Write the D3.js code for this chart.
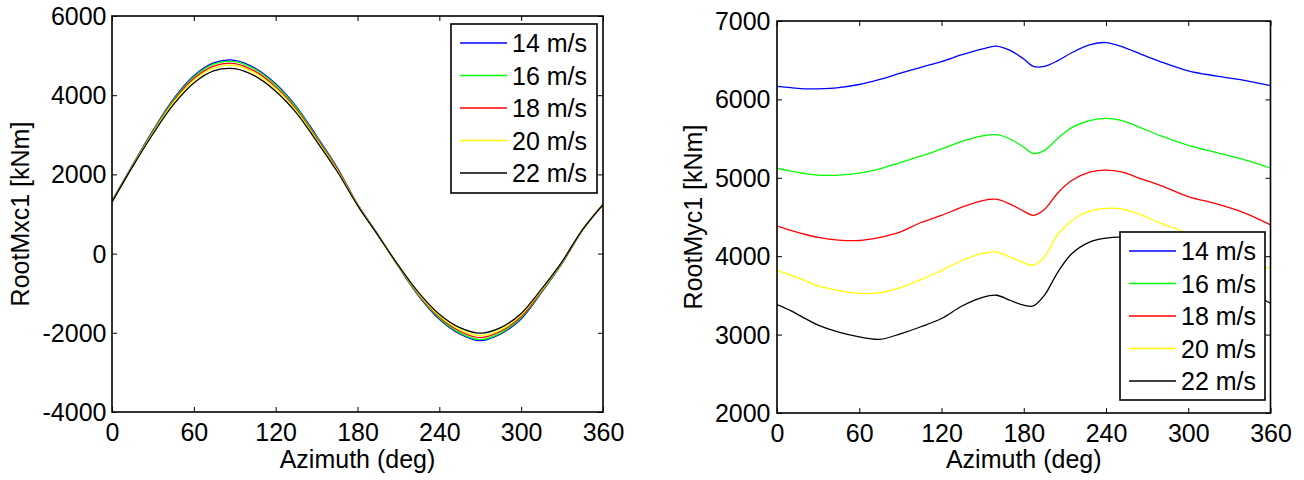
<!DOCTYPE html>
<html>
<head>
<meta charset="utf-8">
<script src="https://cdn.jsdelivr.net/npm/d3@7"></script>
<style>
  html, body { margin: 0; padding: 0; background: #fff; }
  svg { display: block; }
  text { font-family: "Liberation Sans", Arial, sans-serif; fill: #000; }
</style>
</head>
<body>
<svg id="chart" width="1304" height="480"></svg>
<script>
// ---------- DATA ----------
const seriesNames = ["14 m/s", "16 m/s", "18 m/s", "20 m/s", "22 m/s"];
const seriesColors = ["#0000ff", "#00ff00", "#ff0000", "#ffff00", "#000000"];
const xTicks = [0, 60, 120, 180, 240, 300, 360];

// Left panel: RootMxc1
const azLeft = [0, 15, 30, 45, 60, 75, 90, 105, 120, 135, 150, 165, 180, 195, 210, 225, 240, 255, 270, 285, 300, 315, 330, 345, 360];
const mx14 = [1330, 2230, 3110, 3900, 4490, 4820, 4880, 4680, 4290, 3720, 2970, 2180, 1250, 480, -325, -1080, -1660, -2030, -2200, -2030, -1650, -980, -250, 590, 1250];
const mx16 = [1320, 2220, 3090, 3870, 4460, 4790, 4850, 4650, 4260, 3690, 2940, 2160, 1240, 470, -320, -1060, -1630, -2000, -2170, -2000, -1620, -960, -240, 590, 1245];
const mx18 = [1310, 2210, 3070, 3840, 4420, 4740, 4800, 4600, 4210, 3650, 2910, 2140, 1235, 470, -315, -1040, -1600, -1960, -2120, -1960, -1590, -940, -230, 600, 1240];
const mx20 = [1305, 2200, 3050, 3810, 4370, 4690, 4750, 4550, 4160, 3610, 2880, 2110, 1230, 465, -310, -1020, -1570, -1920, -2070, -1920, -1550, -920, -215, 600, 1240];
const mx22 = [1300, 2190, 3020, 3760, 4310, 4620, 4670, 4480, 4100, 3560, 2840, 2080, 1220, 460, -300, -990, -1530, -1870, -2010, -1870, -1510, -890, -200, 605, 1235];
const yTicksLeft = [-4000, -2000, 0, 2000, 4000, 6000];

// Right panel: RootMyc1
const azRight = [0, 10, 20, 30, 45, 60, 75, 90, 105, 120, 135, 150, 160, 170, 180, 187, 195, 205, 215, 228, 240, 252, 265, 280, 300, 320, 340, 360];
const my14 = [6165, 6150, 6135, 6135, 6150, 6190, 6255, 6335, 6410, 6483, 6570, 6645, 6680, 6625, 6515, 6420, 6420, 6495, 6595, 6695, 6725, 6670, 6580, 6480, 6365, 6300, 6245, 6175];
const my16 = [5122, 5085, 5055, 5035, 5035, 5060, 5115, 5195, 5275, 5368, 5465, 5535, 5550, 5495, 5390, 5310, 5350, 5505, 5640, 5728, 5758, 5728, 5640, 5535, 5415, 5325, 5235, 5125];
const my18 = [4384, 4330, 4280, 4240, 4205, 4200, 4240, 4310, 4430, 4520, 4625, 4710, 4727, 4665, 4575, 4520, 4595, 4810, 4965, 5071, 5098, 5071, 4990, 4900, 4760, 4670, 4560, 4400];
const my20 = [3820, 3760, 3690, 3620, 3560, 3525, 3535, 3600, 3700, 3820, 3945, 4035, 4053, 3990, 3915, 3885, 3990, 4280, 4456, 4575, 4610, 4600, 4530, 4420, 4290, 4110, 3950, 3845];
const my22 = [3383, 3305, 3210, 3120, 3030, 2970, 2940, 3010, 3100, 3205, 3365, 3475, 3502, 3438, 3375, 3365, 3500, 3800, 4032, 4180, 4230, 4240, 4190, 4050, 3900, 3740, 3580, 3400];
const yTicksRight = [2000, 3000, 4000, 5000, 6000, 7000];

// ---------- DRAW ----------
const svg = d3.select("#chart");
const FS = 25;
const fmt = d => String(d);

function panel(cfg) {
  const g = svg.append("g");
  const x = d3.scaleLinear().domain([0, 360]).range([cfg.left, cfg.right]);
  const y = d3.scaleLinear().domain(cfg.yDomain).range([cfg.bottom, cfg.top]);

  const clipId = "clip" + cfg.id;
  svg.append("defs").append("clipPath").attr("id", clipId)
    .append("rect").attr("x", cfg.left).attr("y", cfg.top)
    .attr("width", cfg.right - cfg.left).attr("height", cfg.bottom - cfg.top);

  // lines
  const lineGen = d3.line().x(d => x(d[0])).y(d => y(d[1])).curve(d3.curveCatmullRom.alpha(0.5));
  const lg = g.append("g").attr("clip-path", `url(#${clipId})`);
  cfg.series.forEach((vals, i) => {
    lg.append("path")
      .datum(cfg.az.map((a, j) => [a, vals[j]]))
      .attr("d", lineGen)
      .attr("fill", "none")
      .attr("stroke", seriesColors[i])
      .attr("stroke-width", 1.3);
  });

  // axes (ticks inward)
  const xb = g.append("g").attr("transform", `translate(0,${cfg.bottom})`)
    .call(d3.axisBottom(x).tickValues(xTicks).tickSize(-5).tickPadding(11).tickFormat(fmt));
  const xt = g.append("g").attr("transform", `translate(0,${cfg.top})`)
    .call(d3.axisTop(x).tickValues(xTicks).tickSize(-5).tickFormat(""));
  const yl = g.append("g").attr("transform", `translate(${cfg.left},0)`)
    .call(d3.axisLeft(y).tickValues(cfg.yTicks).tickSize(-5).tickPadding(cfg.yPad).tickFormat(fmt));
  const yr = g.append("g").attr("transform", `translate(${cfg.right},0)`)
    .call(d3.axisRight(y).tickValues(cfg.yTicks).tickSize(-5).tickFormat(""));
  [xb, xt, yl, yr].forEach(a => {
    a.select(".domain").remove();
    a.selectAll("line").attr("stroke", "#000").attr("stroke-width", 1);
    a.selectAll("text").style("font-size", FS + "px").style("font-family", '"Liberation Sans", Arial, sans-serif').attr("fill", "#000");
  });
  yl.selectAll("text").attr("dy", "0.34em");

  // box
  g.append("rect").attr("x", cfg.left).attr("y", cfg.top)
    .attr("width", cfg.right - cfg.left).attr("height", cfg.bottom - cfg.top)
    .attr("fill", "none").attr("stroke", "#000").attr("stroke-width", 1.6);

  // axis labels
  g.append("text").attr("x", (cfg.left + cfg.right) / 2).attr("y", 468)
    .attr("text-anchor", "middle").style("font-size", FS + "px").text("Azimuth (deg)");
  g.append("text")
    .attr("transform", `translate(${cfg.ylabX},${(cfg.top + cfg.bottom) / 2}) rotate(-90)`)
    .attr("text-anchor", "middle").attr("dy", "0.35em").style("font-size", FS + "px").text(cfg.ylabel);

  // legend
  const L = cfg.legend;
  const lgd = g.append("g");
  lgd.append("rect").attr("x", L.x).attr("y", L.y).attr("width", L.w).attr("height", L.h)
    .attr("fill", "#fff").attr("stroke", "#000").attr("stroke-width", 1.6);
  seriesNames.forEach((n, i) => {
    const cy = L.y + 19 + i * 32.5;
    lgd.append("line").attr("x1", L.x + 9).attr("x2", L.x + 56).attr("y1", cy).attr("y2", cy)
      .attr("stroke", seriesColors[i]).attr("stroke-width", 1.3);
    lgd.append("text").attr("x", L.x + 61).attr("y", cy).attr("dy", "0.36em")
      .style("font-size", FS + "px").text(n);
  });
}

panel({
  id: "L", left: 112, right: 603, top: 16, bottom: 412,
  yDomain: [-4000, 6000], yTicks: yTicksLeft, yPad: 5.5, ylabX: 20,
  ylabel: "RootMxc1 [kNm]", az: azLeft,
  series: [mx14, mx16, mx18, mx20, mx22],
  legend: { x: 451, y: 24, w: 146, h: 169 }
});

panel({
  id: "R", left: 777, right: 1270.5, top: 21, bottom: 413,
  yDomain: [2000, 7000], yTicks: yTicksRight, yPad: 6.5, ylabX: 693,
  ylabel: "RootMyc1 [kNm]", az: azRight,
  series: [my14, my16, my18, my20, my22],
  legend: { x: 1120, y: 232, w: 145, h: 168 }
});
</script>
</body>
</html>
